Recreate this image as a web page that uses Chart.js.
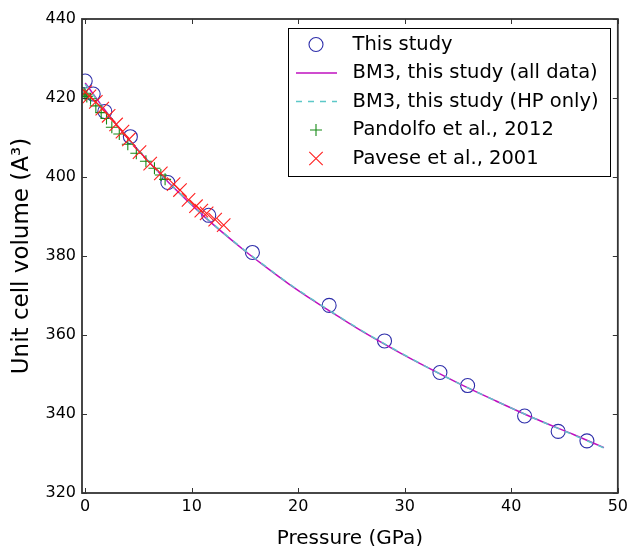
<!DOCTYPE html>
<html lang="en">

<head>
    <meta charset="UTF-8">
    <title>Unit cell volume vs pressure</title>
    <script src="https://cdn.jsdelivr.net/npm/chart.js"></script>
    <style>
        body {
            margin: 0;
            padding: 0;
            background: #fff;
        }

        #chart {
            display: block;
        }
    </style>
</head>

<body>
    <canvas id="chart" width="632" height="546"></canvas>

    <script>
        // This study (open circles)
        const pressureStudy = [0.0, 0.75, 1.84, 4.24, 7.76, 11.6, 15.7, 22.9, 28.1, 33.3, 35.9, 41.25, 44.4, 47.1];
        const volumeStudy = [424.3, 421.0, 416.6, 410.2, 398.6, 390.3, 380.9, 367.5, 358.5, 350.5, 347.2, 339.5, 335.6, 333.2];

        // BM3 curves
        const pressureFit = [0, 2.33, 4.95, 7.9, 11.21, 14.94, 16.97, 19.13, 21.43, 23.87, 26.46, 29.21, 32.13, 35.25, 38.56, 42.08, 45.84, 48.7];
        const volumeFitAll = [423.8, 415.3, 406.9, 398.4, 389.9, 381.4, 377.2, 372.9, 368.7, 364.5, 360.2, 356.0, 351.8, 347.5, 343.3, 339.0, 334.8, 331.5];
        const volumeFitHP = [423.5, 415.2, 406.9, 398.5, 390.0, 381.5, 377.3, 373.0, 368.8, 364.6, 360.3, 356.1, 351.8, 347.5, 343.3, 339.0, 334.7, 331.4];

        // Pandolfo et al., 2012
        const pressurePandolfo = [-0.1, 0.0, 0.15, 0.5, 1.0, 1.5, 2.0, 2.5, 3.2, 4.0, 4.8, 5.7, 6.5, 7.1, 7.5];
        const volumePandolfo = [421.2, 420.8, 420.4, 419.8, 418.0, 416.3, 414.8, 412.6, 410.9, 408.3, 406.0, 404.0, 402.2, 400.5, 399.4];

        // Pavese et al., 2001
        const pressurePavese = [0.0, 0.4, 1.0, 1.6, 2.2, 2.9, 3.5, 4.1, 5.1, 6.1, 7.1, 8.3, 8.9, 9.7, 10.4, 10.9, 11.4, 12.2, 13.0];
        const volumePavese = [421.5, 420.4, 419.0, 417.3, 415.5, 413.3, 411.5, 409.5, 406.3, 403.4, 400.9, 398.2, 396.7, 394.2, 392.6, 391.5, 390.8, 389.2, 387.8];

        const xTicks = [0, 10, 20, 30, 40, 50];
        const yTicks = [320, 340, 360, 380, 400, 420, 440];

        const FONT = "'DejaVu Sans', sans-serif";

        function toPoints(xs, ys) {
            return xs.map(function (x, i) { return { x: x, y: ys[i] }; });
        }

        // frame with inward ticks on all four sides, like the classic matplotlib style
        const framePlugin = {
            id: 'frame',
            afterDraw: function (chart) {
                const ctx = chart.ctx;
                const a = chart.chartArea;
                const xs = chart.scales.x, ys = chart.scales.y;
                ctx.save();
                ctx.strokeStyle = '#333';
                ctx.lineWidth = 1;
                ctx.beginPath();
                xTicks.forEach(function (v) {
                    const px = Math.round(xs.getPixelForValue(v)) + 0.5;
                    ctx.moveTo(px, a.bottom); ctx.lineTo(px, a.bottom - 5);
                    ctx.moveTo(px, a.top); ctx.lineTo(px, a.top + 5);
                });
                yTicks.forEach(function (v) {
                    const py = Math.round(ys.getPixelForValue(v)) + 0.5;
                    ctx.moveTo(a.left, py); ctx.lineTo(a.left + 5, py);
                    ctx.moveTo(a.right, py); ctx.lineTo(a.right - 5, py);
                });
                ctx.stroke();
                ctx.lineWidth = 1.8;
                ctx.strokeRect(a.left, a.top, a.right - a.left, a.bottom - a.top);
                ctx.restore();
            }
        };

        // legend box in the top right corner of the plot
        const legendPlugin = {
            id: 'boxLegend',
            afterDraw: function (chart) {
                const ctx = chart.ctx;
                const box = { x: 288.5, y: 28.5, w: 322, h: 148 };
                const rowY = [44.5, 73, 101.5, 130, 158.5];
                ctx.save();
                ctx.fillStyle = '#fff';
                ctx.fillRect(box.x, box.y, box.w, box.h);
                ctx.strokeStyle = '#000';
                ctx.lineWidth = 1;
                ctx.strokeRect(box.x, box.y, box.w, box.h);

                chart.data.datasets.forEach(function (ds, i) {
                    const y = rowY[i];
                    const cx = 316;
                    ctx.strokeStyle = ds.borderColor;
                    ctx.lineWidth = ds.borderWidth || 1;
                    ctx.beginPath();
                    if (ds.showLine) {
                        ctx.setLineDash(ds.borderDash || []);
                        ctx.moveTo(296, y); ctx.lineTo(337, y);
                    } else if (ds.pointStyle === 'circle') {
                        ctx.arc(cx, y, ds.pointRadius, 0, Math.PI * 2);
                    } else if (ds.pointStyle === 'cross') {
                        ctx.moveTo(cx - ds.pointRadius, y); ctx.lineTo(cx + ds.pointRadius, y);
                        ctx.moveTo(cx, y - ds.pointRadius); ctx.lineTo(cx, y + ds.pointRadius);
                    } else {
                        const r = ds.pointRadius * 0.7071;
                        ctx.moveTo(cx - r, y - r); ctx.lineTo(cx + r, y + r);
                        ctx.moveTo(cx - r, y + r); ctx.lineTo(cx + r, y - r);
                    }
                    ctx.stroke();
                    ctx.setLineDash([]);

                    ctx.fillStyle = '#000';
                    ctx.font = '19.5px ' + FONT;
                    ctx.textBaseline = 'middle';
                    ctx.textAlign = 'left';
                    ctx.fillText(ds.label, 352.5, y);
                });
                ctx.restore();
            }
        };

        const ctx = document.getElementById('chart').getContext('2d');
        const chart = new Chart(ctx, {
            type: 'scatter',
            data: {
                datasets: [{
                    label: 'This study',
                    data: toPoints(pressureStudy, volumeStudy),
                    pointStyle: 'circle',
                    pointRadius: 7,
                    backgroundColor: 'transparent',
                    borderColor: '#2e2eaa',
                    borderWidth: 1.1,
                    order: 5
                }, {
                    label: 'BM3, this study (all data)',
                    data: toPoints(pressureFit, volumeFitAll),
                    showLine: true,
                    pointRadius: 0,
                    borderColor: '#bf10bf',
                    borderWidth: 1.5,
                    cubicInterpolationMode: 'monotone',
                    order: 4
                }, {
                    label: 'BM3, this study (HP only)',
                    data: toPoints(pressureFit, volumeFitHP),
                    showLine: true,
                    pointRadius: 0,
                    borderColor: '#5cc8c8',
                    borderWidth: 1.5,
                    borderDash: [6, 6],
                    cubicInterpolationMode: 'monotone',
                    order: 3
                }, {
                    label: 'Pandolfo et al., 2012',
                    data: toPoints(pressurePandolfo, volumePandolfo),
                    pointStyle: 'cross',
                    pointRadius: 6,
                    backgroundColor: 'transparent',
                    borderColor: '#178a17',
                    borderWidth: 1.1,
                    order: 2
                }, {
                    label: 'Pavese et al., 2001',
                    data: toPoints(pressurePavese, volumePavese),
                    pointStyle: 'crossRot',
                    pointRadius: 9.5,
                    backgroundColor: 'transparent',
                    borderColor: '#ff2020',
                    borderWidth: 1.1,
                    order: 1
                }]
            },
            options: {
                responsive: false,
                animation: false,
                events: [],
                layout: {
                    padding: { top: 19, right: 12, left: 0, bottom: 0 }
                },
                plugins: {
                    legend: { display: false },
                    tooltip: { enabled: false }
                },
                scales: {
                    x: {
                        type: 'linear',
                        min: -0.3,
                        max: 50,
                        afterBuildTicks: function (axis) {
                            axis.ticks = xTicks.map(function (v) { return { value: v }; });
                        },
                        afterFit: function (axis) { axis.height = 53; },
                        grid: { display: false, drawTicks: false },
                        border: { display: false },
                        ticks: {
                            color: '#000',
                            padding: 4,
                            maxRotation: 0,
                            font: { family: FONT, size: 16 }
                        },
                        title: {
                            display: true,
                            text: 'Pressure (GPa)',
                            color: '#000',
                            font: { family: FONT, size: 20, lineHeight: 0.7 },
                            padding: { top: 0, bottom: 0 }
                        }
                    },
                    y: {
                        type: 'linear',
                        min: 320,
                        max: 440,
                        afterBuildTicks: function (axis) {
                            axis.ticks = yTicks.map(function (v) { return { value: v }; });
                        },
                        afterFit: function (axis) { axis.width = 82; },
                        grid: { display: false, drawTicks: false },
                        border: { display: false },
                        ticks: {
                            color: '#000',
                            padding: 6,
                            font: { family: FONT, size: 16 }
                        },
                        title: {
                            display: true,
                            text: 'Unit cell volume (A³)',
                            color: '#000',
                            font: { family: FONT, size: 23, lineHeight: 1 },
                            padding: { top: 11, bottom: 0 }
                        }
                    }
                }
            },
            plugins: [framePlugin, legendPlugin]
        });
    </script>
</body>

</html>
